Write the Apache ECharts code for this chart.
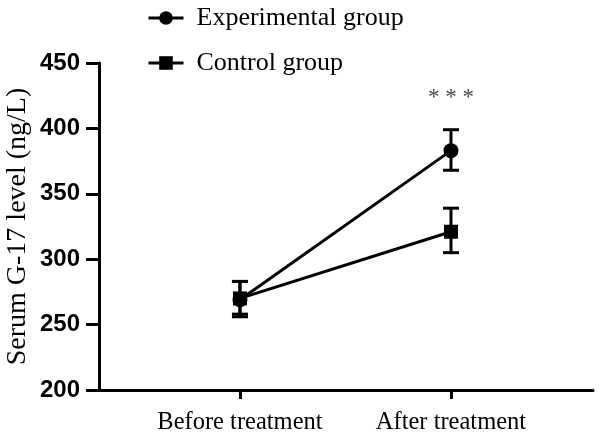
<!DOCTYPE html>
<html>
<head>
<meta charset="utf-8">
<script src="https://cdn.jsdelivr.net/npm/echarts@6/dist/echarts.min.js"></script>
<style>html,body{margin:0;padding:0;background:#fff}#c{width:600px;height:436px}</style>
</head>
<body>
<div id="c"></div>
<script>
var categories = ['Before treatment', 'After treatment'];
var seriesNames = ['Experimental group', 'Control group'];
var expMean = [269, 383];
var expLow = [258, 368];
var expHigh = [283, 399];
var ctrlMean = [270, 321];
var ctrlLow = [256, 305];
var ctrlHigh = [283, 339];
var yTicks = [200, 250, 300, 350, 400, 450];
var annotationText = '* * *';
var annotationPoint = [1, 423];

var serif = '"Liberation Serif", "Times New Roman", serif';
var sans = '"Liberation Sans", Arial, sans-serif';

function pts(mean) { return mean.map(function (v, i) { return [i, v]; }); }
function errs(low, high) { return low.map(function (v, i) { return [i, v, high[i]]; }); }

function errRender(params, api) {
  var x = api.value(0);
  var lo = api.coord([x, api.value(1)]);
  var hi = api.coord([x, api.value(2)]);
  var w = 8;
  var st = { stroke: '#000', lineWidth: 3 };
  return {
    type: 'group',
    children: [
      { type: 'line', shape: { x1: lo[0], y1: lo[1], x2: hi[0], y2: hi[1] }, style: st },
      { type: 'line', shape: { x1: lo[0] - w, y1: lo[1], x2: lo[0] + w, y2: lo[1] }, style: st },
      { type: 'line', shape: { x1: hi[0] - w, y1: hi[1], x2: hi[0] + w, y2: hi[1] }, style: st }
    ]
  };
}

var chart = echarts.init(document.getElementById('c'), null, { renderer: 'canvas' });
chart.setOption({
  animation: false,
  backgroundColor: '#fff',
  grid: { left: 99, right: 7, top: 63, bottom: 46, containLabel: false, outerBoundsMode: 'none' },
  legend: {
    orient: 'vertical',
    left: 142,
    top: 0,
    itemGap: 19,
    itemWidth: 35,
    itemHeight: 17,
    data: seriesNames,
    lineStyle: { width: 3, color: '#000' },
    textStyle: { fontFamily: serif, fontSize: 26, color: '#000', padding: [0, 0, 0, 8] }
  },
  xAxis: {
    type: 'value',
    min: -0.668,
    max: 1.673,
    splitLine: { show: false },
    axisLine: { onZero: false, lineStyle: { color: '#000', width: 3 } },
    axisTick: { show: true, customValues: [0, 1], length: 9, lineStyle: { color: '#000', width: 3 } },
    axisLabel: {
      customValues: [0, 1],
      formatter: function (v) { return categories[Math.round(v)] || ''; },
      fontFamily: serif, fontSize: 24.5, color: '#000', margin: 20
    }
  },
  yAxis: {
    type: 'value',
    min: yTicks[0],
    max: yTicks[yTicks.length - 1],
    interval: 50,
    name: 'Serum G-17 level (ng/L)',
    nameLocation: 'middle',
    nameGap: 67,
    nameMoveOverlap: false,
    nameTextStyle: { fontFamily: serif, fontSize: 28, color: '#000' },
    splitLine: { show: false },
    axisLine: { show: true, onZero: false, lineStyle: { color: '#000', width: 3 } },
    axisTick: { show: true, length: 13, lineStyle: { color: '#000', width: 3 } },
    axisLabel: { fontFamily: sans, fontWeight: 'bold', fontSize: 24, color: '#000', margin: 19 }
  },
  series: [
    {
      type: 'custom', name: 'expErr', renderItem: errRender, data: errs(expLow, expHigh),
      encode: { x: 0, y: [1, 2] }, z: 3, silent: true
    },
    {
      type: 'custom', name: 'ctrlErr', renderItem: errRender, data: errs(ctrlLow, ctrlHigh),
      encode: { x: 0, y: [1, 2] }, z: 3, silent: true
    },
    {
      type: 'line', name: seriesNames[0], data: pts(expMean), symbol: 'circle', symbolSize: 15,
      lineStyle: { color: '#000', width: 3 }, itemStyle: { color: '#000' }, z: 5
    },
    {
      type: 'line', name: seriesNames[1], data: pts(ctrlMean), symbol: 'rect', symbolSize: 14,
      lineStyle: { color: '#000', width: 3 }, itemStyle: { color: '#000' }, z: 5
    },
    {
      type: 'scatter', name: 'annotation', data: [annotationPoint], symbolSize: 0, silent: true,
      label: { show: true, position: 'inside', formatter: annotationText, fontFamily: serif, fontSize: 23, color: '#111' }
    }
  ]
});
</script>
</body>
</html>
